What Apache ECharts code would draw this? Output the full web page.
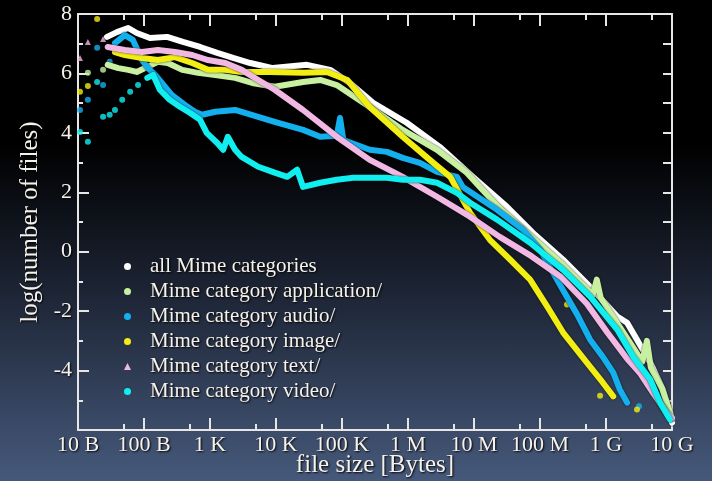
<!DOCTYPE html>
<html>
<head>
<meta charset="utf-8">
<script src="https://cdn.jsdelivr.net/npm/echarts@6.0.0/dist/echarts.min.js"></script>
<style>
html, body { margin: 0; padding: 0; }
#chart {
  width: 712px; height: 481px;
  background: linear-gradient(to bottom, #000 0%, #000 30%, #1a2130 58%, #46597b 100%);
}
</style>
</head>
<body>
<div id="chart"></div>
<script>
// x values are log10(file size in bytes), y values are log10(number of files)
var sizeLabels = ['10 B', '100 B', '1 K', '10 K', '100 K', '1 M', '10 M', '100 M', '1 G', '10 G'];
var minorSizeTicks = [1.7, 2.7, 3.7, 4.7, 5.7, 6.7, 7.7, 8.7, 9.7];
var names = ['all Mime categories', 'Mime category application/', 'Mime category audio/',
  'Mime category image/', 'Mime category text/', 'Mime category video/'];
var colors = ['#ffffff', '#c8f0a0', '#14b0ee', '#f2ee14', '#f2b8e4', '#10eef0'];

var allX = [1.44, 1.59, 1.76, 1.89, 2.09, 2.35, 2.59, 2.85, 3.11, 3.35, 3.61, 3.95, 4.47, 4.82, 5.12, 5.47, 5.98, 6.48, 6.98, 7.5, 7.89, 8.35, 8.76, 9.17, 9.32, 9.67, 9.86, 10.0];
var allY = [7.23, 7.39, 7.53, 7.36, 7.19, 7.23, 7.06, 6.89, 6.69, 6.52, 6.35, 6.18, 6.29, 6.12, 5.68, 5.01, 4.34, 3.53, 2.52, 1.51, 0.64, -0.27, -1.18, -2.18, -2.39, -3.73, -4.64, -5.75];

var appX = [1.45, 1.61, 1.76, 1.89, 2.21, 2.36, 2.58, 2.82, 3.08, 3.38, 3.64, 3.98, 4.41, 4.67, 4.92, 5.42, 5.92, 6.44, 6.89, 7.35, 7.85, 8.35, 8.8, 8.86, 8.92, 9.17, 9.55, 9.62, 9.68, 9.85, 10.0];
var appY = [6.29, 6.18, 6.12, 6.05, 6.39, 6.35, 6.12, 6.02, 5.95, 5.85, 5.68, 5.55, 5.71, 5.78, 5.61, 4.87, 4.10, 3.43, 2.66, 1.55, 0.55, -0.45, -1.45, -0.94, -1.55, -2.4, -3.7, -3.0, -3.9, -4.6, -5.6];
var appDotsX = [1.15, 1.38];
var appDotsY = [6.02, 6.12];

var audioX = [1.56, 1.71, 1.83, 1.97, 2.06, 2.17, 2.32, 2.42, 2.62, 2.77, 2.88, 3.08, 3.38, 3.73, 3.98, 4.41, 4.67, 4.92, 4.97, 5.02, 5.42, 5.68, 5.92, 6.18, 6.44, 6.74, 6.83, 7.35, 7.74, 8.0, 8.35, 8.56, 8.76, 8.95, 9.11, 9.21, 9.32];
var audioY = [7.02, 7.29, 7.13, 6.45, 6.18, 5.95, 5.55, 5.28, 4.94, 4.71, 4.61, 4.71, 4.77, 4.54, 4.37, 4.10, 3.87, 3.9, 4.50, 3.76, 3.43, 3.36, 3.16, 2.99, 2.69, 2.52, 2.18, 1.41, 0.74, 0.07, -1.3, -2.1, -2.96, -3.53, -4.07, -4.64, -5.08];
var audioDotsX = [1.03, 1.15, 1.29, 1.38, 1.48, 9.5];
var audioDotsY = [4.77, 5.11, 6.86, 5.61, 6.39, -5.2];

var imageX = [1.56, 1.71, 1.97, 2.21, 2.47, 2.73, 2.97, 3.23, 3.48, 3.91, 4.41, 4.77, 5.08, 5.42, 5.92, 6.33, 6.64, 6.94, 7.24, 7.55, 7.85, 8.11, 8.35, 8.71, 8.95, 9.11];
var imageY = [6.72, 6.62, 6.52, 6.45, 6.55, 6.35, 6.12, 6.12, 6.05, 6.05, 6.02, 6.05, 5.78, 4.87, 3.87, 3.09, 2.52, 1.31, 0.40, -0.27, -0.94, -1.85, -2.72, -3.73, -4.40, -4.87];
var imageDotsX = [1.03, 1.15, 1.29, 8.41, 8.91, 9.47];
var imageDotsY = [5.38, 5.58, 7.83, -1.78, -4.85, -5.31];

var textX = [1.45, 1.71, 1.97, 2.21, 2.47, 2.73, 2.97, 3.23, 3.48, 3.73, 3.98, 4.41, 4.92, 5.42, 5.92, 6.44, 6.94, 7.39, 7.87, 8.32, 8.71, 9.02, 9.32, 9.52, 9.71, 9.92, 10.0];
var textY = [6.89, 6.79, 6.72, 6.79, 6.72, 6.62, 6.45, 6.35, 6.12, 5.78, 5.45, 4.77, 3.87, 3.09, 2.52, 1.85, 1.18, 0.5, -0.15, -0.85, -1.75, -2.72, -3.6, -4.1, -4.74, -5.41, -5.6];
var textDotsX = [1.03, 1.15, 1.38];
var textDotsY = [6.52, 7.06, 7.16];

var videoX = [2.05, 2.14, 2.24, 2.39, 2.55, 2.70, 2.85, 2.95, 3.11, 3.20, 3.27, 3.38, 3.48, 3.73, 3.98, 4.17, 4.32, 4.41, 4.67, 4.92, 5.17, 5.42, 5.68, 5.92, 6.18, 6.44, 6.74, 6.94, 7.35, 7.85, 8.35, 8.76, 9.17, 9.41, 9.67, 9.82, 9.97];
var videoY = [5.85, 5.95, 5.45, 5.11, 4.87, 4.67, 4.44, 4.0, 3.66, 3.43, 3.87, 3.43, 3.19, 2.86, 2.66, 2.52, 2.76, 2.18, 2.32, 2.42, 2.49, 2.49, 2.49, 2.42, 2.42, 2.32, 1.98, 1.65, 1.08, 0.30, -0.61, -1.51, -2.62, -3.53, -4.30, -5.08, -5.65];
var videoDotsX = [1.03, 1.15, 1.29, 1.38, 1.48, 1.56, 1.67, 1.79, 1.91];
var videoDotsY = [4.03, 3.70, 5.71, 4.54, 4.61, 4.77, 5.11, 5.38, 5.61];

function pairs(xs, ys) {
  return xs.map(function (x, i) { return [x, ys[i]]; });
}

var serif = '"Liberation Serif", "DejaVu Serif", serif';
var ink = '#f6f2ea';
var shadowText = { textShadowColor: '#000', textShadowBlur: 2, textShadowOffsetX: 1, textShadowOffsetY: 1 };
var axisLine = { show: true, onZero: false, lineStyle: { color: '#e6e6e6', width: 2 } };

var lines = [[allX, allY], [appX, appY], [audioX, audioY], [imageX, imageY], [textX, textY], [videoX, videoY]];
var dots = [null, [appDotsX, appDotsY], [audioDotsX, audioDotsY], [imageDotsX, imageDotsY], [textDotsX, textDotsY], [videoDotsX, videoDotsY]];

var series = [];
lines.forEach(function (l, i) {
  series.push({
    name: names[i], type: 'line', data: pairs(l[0], l[1]),
    showSymbol: false, symbol: 'circle', color: colors[i],
    lineStyle: { width: 6, cap: 'round', join: 'round', color: colors[i],
      shadowColor: 'rgba(0,0,0,0.8)', shadowBlur: 2 },
    z: 2 + i
  });
});
dots.forEach(function (d, i) {
  if (!d) return;
  series.push({
    name: names[i], type: 'scatter', data: pairs(d[0], d[1]),
    symbol: i === 4 ? 'triangle' : 'circle', symbolSize: 6,
    itemStyle: { color: colors[i] }, z: 2
  });
});

var chart = echarts.init(document.getElementById('chart'));
chart.setOption({
  animation: false,
  backgroundColor: 'transparent',
  grid: { left: 78, right: 40, top: 14, bottom: 51, outerBoundsMode: 'none' },
  legend: {
    orient: 'vertical', left: 119, top: 251, itemGap: 4,
    itemWidth: 7, itemHeight: 7,
    data: names.map(function (n, i) { return { name: n, icon: i === 4 ? 'triangle' : 'circle' }; }),
    textStyle: Object.assign({ color: ink, fontFamily: serif, fontSize: 21, lineHeight: 21, padding: [0, 0, 0, 14] }, shadowText)
  },
  xAxis: [
    {
      type: 'value', position: 'bottom', min: 1, max: 10, interval: 1,
      name: 'file size [Bytes]', nameLocation: 'middle', nameGap: 23, nameMoveOverlap: false,
      nameTextStyle: Object.assign({ color: ink, fontFamily: serif, fontSize: 25 }, shadowText),
      axisLine: axisLine,
      axisTick: { inside: true, length: 12, lineStyle: { color: '#e6e6e6', width: 2 } },
      axisLabel: Object.assign({
        color: ink, fontFamily: serif, fontSize: 22, margin: 4,
        showMinLabel: true, showMaxLabel: true,
        formatter: function (v) { return sizeLabels[Math.round(v) - 1]; }
      }, shadowText),
      splitLine: { show: false }
    },
    {
      type: 'value', position: 'bottom', min: 1, max: 10,
      axisLine: { show: false, onZero: false },
      axisTick: { inside: true, length: 6, customValues: minorSizeTicks, lineStyle: { color: '#e6e6e6', width: 2 } },
      axisLabel: { show: false }, splitLine: { show: false }
    },
    {
      type: 'value', position: 'top', min: 1, max: 10, interval: 1,
      axisLine: axisLine,
      axisTick: { inside: true, length: 12, lineStyle: { color: '#e6e6e6', width: 2 } },
      axisLabel: { show: false }, splitLine: { show: false }
    },
    {
      type: 'value', position: 'top', min: 1, max: 10,
      axisLine: { show: false, onZero: false },
      axisTick: { inside: true, length: 6, customValues: minorSizeTicks, lineStyle: { color: '#e6e6e6', width: 2 } },
      axisLabel: { show: false }, splitLine: { show: false }
    }
  ],
  yAxis: [
    {
      type: 'value', position: 'left', min: -6, max: 8, interval: 2,
      name: 'log(number of files)', nameLocation: 'middle', nameGap: 35, nameMoveOverlap: false,
      nameTextStyle: Object.assign({ color: ink, fontFamily: serif, fontSize: 25 }, shadowText),
      axisLine: axisLine,
      axisTick: { inside: true, length: 11, lineStyle: { color: '#e6e6e6', width: 2 } },
      minorTick: { show: true, splitNumber: 2, length: 5, lineStyle: { color: '#e6e6e6', width: 2 } },
      axisLabel: Object.assign({
        color: ink, fontFamily: serif, fontSize: 22, margin: 6,
        formatter: function (v) { return v === -6 ? '' : String(v); }
      }, shadowText),
      splitLine: { show: false }
    },
    {
      type: 'value', position: 'right', min: -6, max: 8, interval: 1,
      axisLine: axisLine,
      axisTick: { inside: true, length: 9, lineStyle: { color: '#e6e6e6', width: 2 } },
      axisLabel: { show: false }, splitLine: { show: false }
    }
  ],
  series: series
});
</script>
</body>
</html>
